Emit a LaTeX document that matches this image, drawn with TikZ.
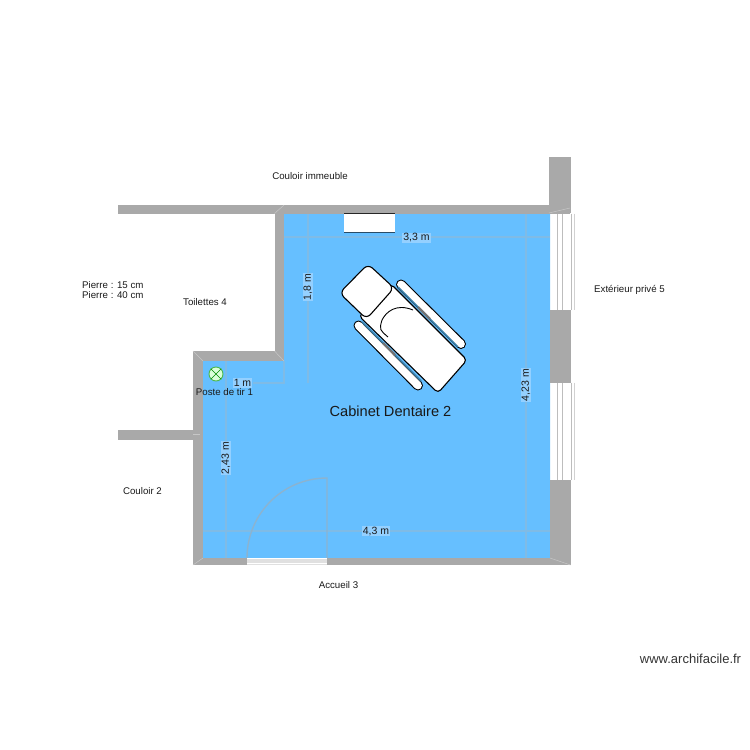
\documentclass[tikz,border=0pt]{standalone}
\usepackage{fontspec}
\setmainfont{Liberation Sans}
\definecolor{wallc}{HTML}{A9A9A9}
\definecolor{roomc}{HTML}{66BFFF}
\definecolor{dimc}{HTML}{7FBBE6}
\definecolor{labc}{HTML}{94D0FF}
\definecolor{winc}{HTML}{BDBDBD}
\definecolor{railc}{HTML}{3C7FA8}
\tikzset{
  wall/.style={fill=wallc,draw=none},
  dimline/.style={draw=dimc,line width=1.2pt},
  dimlab/.style={fill=labc,inner sep=1pt,font=\fontsize{10.5}{12}\selectfont,text=black!90},
  small/.style={inner sep=0pt,font=\fontsize{9.7}{11}\selectfont,text=black!90},
  seat/.style={fill=white,draw=black,line width=1.1pt,rounded corners=4pt},
  miter/.style={draw=white!35!wallc,line width=0.5pt},
  winline/.style={draw=winc,line width=0.8pt}
}
\begin{document}
\begin{tikzpicture}[x=1pt,y=-1pt]
\useasboundingbox (0,0) rectangle (750,750);
% room
\fill[roomc] (284,213) -- (550,213) -- (550,558) -- (203,558) -- (203,361) -- (284,361) -- cycle;
% walls
\fill[wall] (118,204.5) rectangle (570,213.5);
\fill[wall] (549,157) rectangle (570.5,213);
\fill[wall] (274.5,213) rectangle (284,361);
\fill[wall] (193,351) rectangle (284,360.5);
\fill[wall] (193,351) rectangle (203,565);
\fill[wall] (118,429.5) rectangle (193,439.5);
\fill[wall] (193,558) rectangle (570.5,565);
\fill[wall] (549.5,310) rectangle (570.5,382.5);
\fill[wall] (549.5,479.5) rectangle (570.5,565);
% wall corner mitres
\draw[miter] (193,351) -- (203,361);
\draw[miter] (274.5,351) -- (284,361);
\draw[miter] (274.5,213.5) -- (284,205);
\draw[miter] (193,565) -- (203,558);
\draw[miter] (550,558) -- (570.5,565);
\draw[miter] (549,213) -- (570,208);
\draw[miter] (193,434) -- (200,434);
% windows
\fill[white] (550.5,213.5) rectangle (570.5,310);
\fill[white] (550.5,382.5) rectangle (570.5,479.5);
\foreach \xx in {557.5,562.5,571}{
  \draw[winline] (\xx,213.5) -- (\xx,310);
  \draw[winline] (\xx,382.5) -- (\xx,479.5);
}
\draw[winline,draw opacity=.7] (574.5,213.5) -- (574.5,310);
\draw[winline,draw opacity=.7] (574.5,382.5) -- (574.5,479.5);
% dimension lines
\draw[dimline] (284,237) -- (550,237);
\draw[dimline] (308,214) -- (308,383);
\draw[dimline] (253,383) -- (284,383) -- (284,361);
\draw[dimline] (526,214) -- (526,558);
\draw[dimline] (226,361) -- (226,558);
\draw[dimline] (203,531) -- (550,531);
% door
\draw[draw=wallc!55!roomc,line width=1.4pt] (247,558) arc[start angle=180,end angle=270,radius=80] -- (327,558);
\fill[white!88!black] (247,557.5) rectangle (327,565);
\draw[white,line width=0.8pt] (247,558.5) -- (327,558.5);
\draw[white,line width=0.8pt] (247,563) -- (327,563);
% niche
\fill[white] (344,213.5) rectangle (395,232);
\draw[black!85,line width=0.7pt] (344,213.5) -- (395,213.5);
\draw[black!60!roomc,line width=0.9pt] (344,232) -- (395,232);
% dental chair
\draw[black,line width=10pt,line cap=round] (401,284.5) -- (461,344);
\draw[white,line width=7.8pt,line cap=round] (401,284.5) -- (461,344);
\draw[black,line width=10pt,line cap=round] (358.5,325.5) -- (418,385.5);
\draw[white,line width=7.8pt,line cap=round] (358.5,325.5) -- (418,385.5);
\draw[railc,line width=1.5pt] (398,287) -- (458,347);
\draw[railc,line width=1.5pt] (362,322) -- (421,381);
\draw[black!55,line width=2.4pt] (418,307) -- (430,319);
\draw[black!55,line width=2.4pt] (383,343) -- (395,355);
\draw[seat] (391,284) -- (467,360) -- (438,393) -- (359,316) -- cycle;
\draw[seat,rounded corners=6pt] (339.5,293) -- (368,264) -- (394,288) -- (366.5,319) -- cycle;
\draw[black,line width=0.9pt] (413,310) .. controls (396,303) and (386,312) .. (382,320) .. controls (379,330) and (380,330) .. (388,337);
% tir icon
\node[circle,draw=green!60!black!70,fill=white!85!green,line width=0.9pt,minimum size=14pt,inner sep=0pt] (tir) at (216,374) {};
\draw[green!55!black,line width=0.6pt] (tir.north west) -- (tir.south east) (tir.north east) -- (tir.south west);
% labels
\node[dimlab] (d1) at (416.5,238) {3,3 m};
\node[dimlab,rotate=90] (d2) at (308,287) {1,8 m};
\node[dimlab] (d3) at (242.5,383) {1 m};
\node[dimlab,rotate=90] (d4) at (526,385) {4,23 m};
\node[dimlab,rotate=90] (d5) at (226,458) {2,43 m};
\node[dimlab] (d6) at (376,531) {4,3 m};
\node[inner sep=0pt,font=\fontsize{14.6}{16}\selectfont,text=black!90] (room) at (390.5,411) {Cabinet Dentaire 2};
\node[small] (p) at (224.5,392.5) {Poste de tir 1};
\node[small] (c1) at (310,176) {Couloir immeuble};
\node[small,anchor=west] (s1) at (82,285.5) {Pierre : 15 cm};
\node[small,anchor=west] (s2) at (82,295.5) {Pierre : 40 cm};
\node[small] (t) at (205,302.5) {Toilettes 4};
\node[small] (e) at (629.5,289.5) {Extérieur privé 5};
\node[small] (c2) at (142.5,491.5) {Couloir 2};
\node[small] (a) at (338.5,585) {Accueil 3};
\node[inner sep=0pt,font=\fontsize{13}{15}\selectfont,text=black!80] (w) at (690.5,659) {www.archifacile.fr};
\end{tikzpicture}
\end{document}
